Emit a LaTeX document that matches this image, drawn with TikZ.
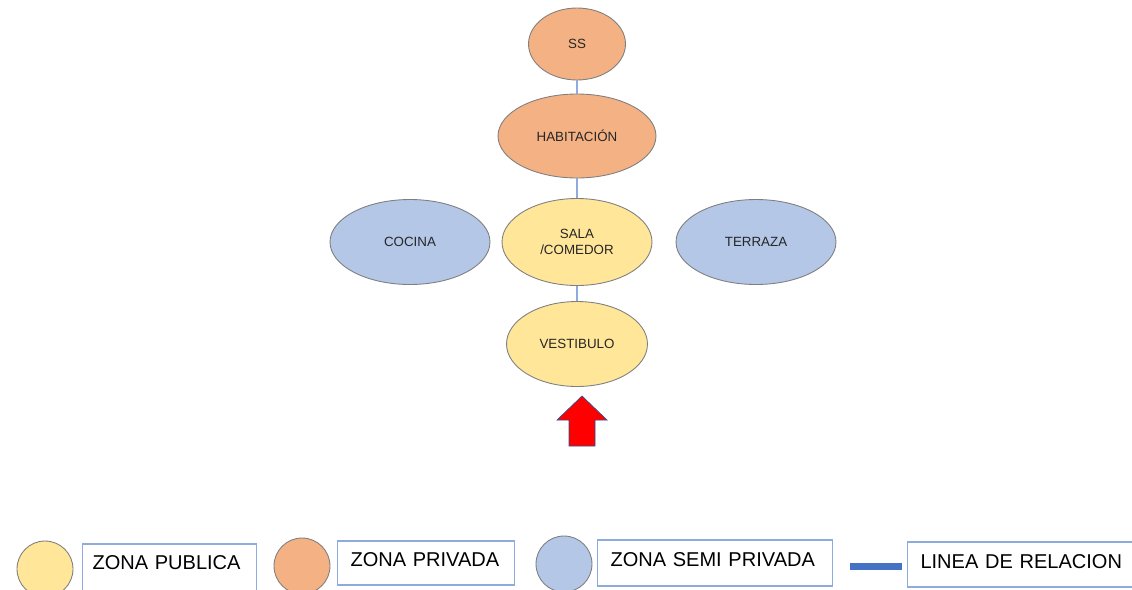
\documentclass[tikz,border=0pt]{standalone}
\usepackage{fontspec}
\setmainfont{Liberation Sans}
\usepackage{tikz}
\usetikzlibrary{arrows.meta,positioning,shapes.geometric}
\definecolor{PublicYellow}{HTML}{FFE699}
\definecolor{PrivateOrange}{HTML}{F4B183}
\definecolor{SemiBlue}{HTML}{B4C7E7}
\definecolor{EdgeGray}{HTML}{7F7F7F}
\definecolor{RelBlue}{HTML}{8FAADC}
\definecolor{BarBlue}{HTML}{4472C4}
\definecolor{ArrowRed}{HTML}{FF0000}
\definecolor{ArrowEdge}{HTML}{2F528F}

\begin{document}
\begin{tikzpicture}[x=0.02cm, y=-0.02cm,
  % ── zone nodes ───────────────────────────────────────────
  zone/.style={
    ellipse, draw=EdgeGray, line width=0.5pt,
    inner sep=0pt, align=center, text=black!85,
    font=\fontsize{7.6}{8.8}\selectfont
  },
  publica/.style={zone, fill=PublicYellow},
  privada/.style={zone, fill=PrivateOrange},
  semi/.style={zone, fill=SemiBlue},
  % ── relation line ────────────────────────────────────────
  rel/.style={draw=RelBlue, line width=0.6pt},
  % ── legend ───────────────────────────────────────────────
  dot/.style={circle, draw=EdgeGray, line width=0.5pt,
              minimum size=1.12cm, inner sep=0pt},
  keybox/.style={draw=RelBlue, line width=0.6pt, fill=white,
                 anchor=base west, inner xsep=0.26cm, inner ysep=0pt,
                 align=left, font=\fontsize{11.4}{13}\selectfont}
]
\clip (0,0) rectangle (1132,589);

%% ── Private zone ──
\node[privada, minimum width=1.94cm, minimum height=1.44cm] (SS)  at (577,44)  {SS};
\node[privada, minimum width=3.16cm, minimum height=1.68cm] (HAB) at (577,136) {HABITACIÓN};

%% ── Public zone ──
\node[publica, minimum width=3.0cm, minimum height=1.74cm]  (SAL) at (577,242) {SALA\\/COMEDOR};
\node[publica, minimum width=2.82cm, minimum height=1.7cm]  (VES) at (577,344) {VESTIBULO};

%% ── Semi private zone ──
\node[semi, minimum width=3.2cm, minimum height=1.7cm] (COC) at (410,242) {COCINA};
\node[semi, minimum width=3.2cm, minimum height=1.7cm] (TER) at (756,242) {TERRAZA};

%% ── Edges ──
\draw[rel] (SS)  -- (HAB);
\draw[rel] (HAB) -- (SAL);
\draw[rel] (SAL) -- (VES);

%% ── Entrance arrow ──
\draw[fill=ArrowRed, draw=ArrowEdge, line width=0.4pt]
  (582,396) -- (607,420) -- (595,420) -- (595,446) -- (569,446)
  -- (569,420) -- (557,420) -- cycle;

%% ── Legend ──
\node[dot, fill=PublicYellow]  (kPub)  at (45,569)  {};
\node[keybox, inner xsep=0.2cm, text width=3.08cm, text height=0.5cm, text depth=0.46cm]
  (tPub) at (82,569) {ZONA PUBLICA};
\node[dot, fill=PrivateOrange] (kPriv) at (302,566) {};
\node[keybox, text width=3.02cm, text height=0.5cm, text depth=0.38cm]
  (tPriv) at (337,566) {ZONA PRIVADA};
\node[dot, fill=SemiBlue]      (kSemi) at (564,564) {};
\node[keybox, text width=4.18cm, text height=0.52cm, text depth=0.4cm]
  (tSemi) at (597,566) {ZONA SEMI PRIVADA};
\coordinate (barL) at (850,566);
\coordinate (barR) at (902,566);
\draw[BarBlue, line width=0.14cm] (barL) -- (barR);
\node[keybox, text width=4.14cm, text height=0.52cm, text depth=0.38cm]
  (tRel) at (907,568) {LINEA DE RELACION};

\end{tikzpicture}
\end{document}
